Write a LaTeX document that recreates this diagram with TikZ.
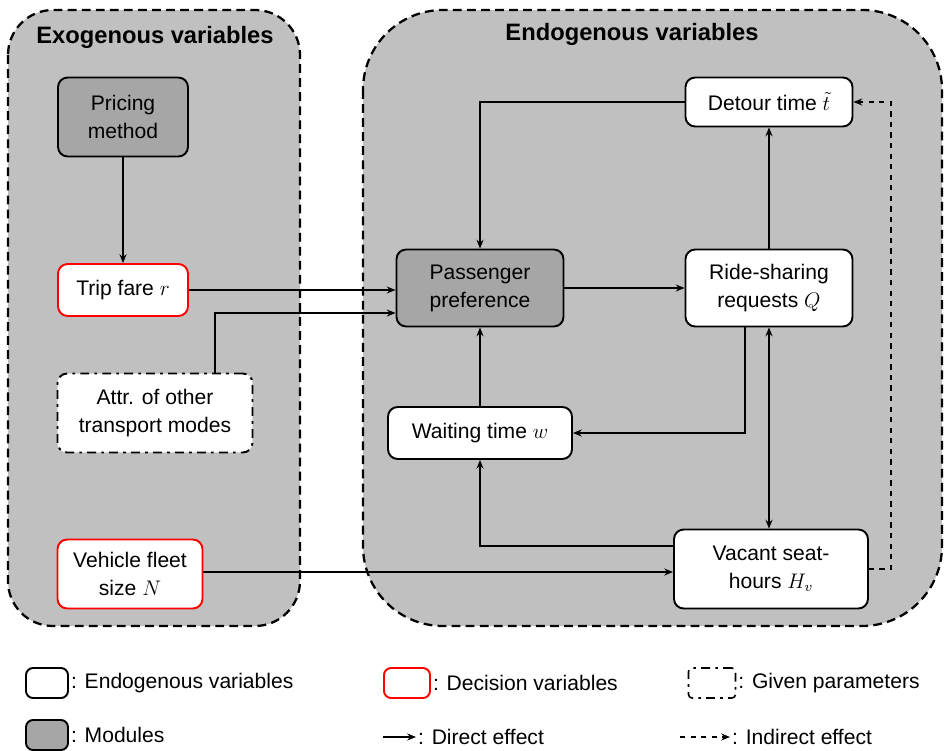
\documentclass[tikz,border=0pt]{standalone}
\usepackage{fontspec}
\setmainfont{Liberation Sans}
\usepackage{tikz}
\usetikzlibrary{positioning,calc,arrows.meta}
\definecolor{bggray}{RGB}{192,192,192}
\definecolor{modgray}{RGB}{166,166,166}

\begin{document}
\begin{tikzpicture}[
  x=0.02cm, y=-0.02cm,
  font=\fontsize{12}{16}\selectfont,
  endobox/.style={rectangle, draw=black, fill=white, rounded corners=5.5pt, line width=1.1pt, align=center, inner sep=2pt},
  modbox/.style={endobox, fill=modgray},
  decbox/.style={endobox, draw=red},
  parbox/.style={endobox, dash pattern=on 5pt off 3pt on 1.5pt off 3pt},
  groupbox/.style={draw=black, fill=bggray, dash pattern=on 5pt off 3pt, line width=1.3pt},
  titletext/.style={font=\fontsize{13.5}{16}\selectfont\bfseries},
  arrow/.style={-{Stealth[length=5pt,width=4pt]}, line width=0.8pt},
  legtext/.style={inner sep=1pt, anchor=west}
]
  \useasboundingbox (0,0) rectangle (944,751);

  % the two groups
  \draw[groupbox, rounded corners=0.9cm] (8,10) rectangle (300,626);
  \draw[groupbox, rounded corners=1.6cm] (363,10) rectangle (942,626);
  \node[titletext] (exotitle) at (155,37) {Exogenous variables};
  \node[titletext] (endotitle) at (632,34) {Endogenous variables};

  % exogenous side
  \node[modbox, minimum width=2.6cm, minimum height=1.58cm] (pricing) at (123,117) {Pricing\\method};
  \node[decbox, minimum width=2.6cm, minimum height=1.04cm] (fare) at (123,290) {Trip fare $r$};
  \node[parbox, minimum width=3.9cm, minimum height=1.58cm] (attr) at (155,413) {Attr. of other\\transport modes};
  \node[decbox, minimum width=2.9cm, minimum height=1.38cm] (fleet) at (130,574) {Vehicle fleet\\size $N$};

  % endogenous side
  \node[endobox, minimum width=3.34cm, minimum height=0.98cm] (detour) at (769,102) {Detour time $\tilde{t}$};
  \node[modbox, minimum width=3.34cm, minimum height=1.54cm] (pref) at (480,288) {Passenger\\preference};
  \node[endobox, minimum width=3.34cm, minimum height=1.54cm] (rs) at (769,288) {Ride-sharing\\requests $Q$};
  \node[endobox, minimum width=3.68cm, minimum height=1.04cm] (wait) at (480,433) {Waiting time $w$};
  \node[endobox, minimum width=3.88cm, minimum height=1.58cm] (vacant) at (771,569) {Vacant seat-\\hours $H_v$};

  % effects
  \draw[arrow] (pricing) -- (fare);
  \draw[arrow] (fare.east) -- (fare.east -| pref.west);
  \draw[arrow] ($(attr.north)+(60,0)$) |- ($(pref.west)+(0,25)$);
  \draw[arrow] ($(fleet.east)+(0,-2)$) -- ($(fleet.east -| vacant.west)+(0,-2)$);
  \draw[arrow] (detour.west) -| (pref.north);
  \draw[arrow] (pref) -- (rs);
  \draw[arrow] (rs) -- (detour);
  \draw[arrow] ($(rs.south)+(-24,0)$) |- (wait.east);
  \draw[arrow] (wait) -- (pref);
  \draw[{Stealth[length=5pt,width=4pt]}-{Stealth[length=5pt,width=4pt]}, line width=0.8pt] (rs.south) -- (rs.south |- vacant.north);
  \draw[arrow] ($(vacant.west)+(0,-23)$) -| (wait.south);
  \draw[arrow, dashed] (vacant.east) -- ++(22,0) |- (detour.east);

  % legend
  \node[endobox, minimum width=0.84cm, minimum height=0.6cm, rounded corners=4pt] (lgendo) at (47,683) {};
  \node[legtext] (lgendotext) at (lgendo.east) {: Endogenous variables};
  \node[decbox, minimum width=0.92cm, minimum height=0.6cm, rounded corners=4pt] (lgdec) at (407,683) {};
  \node[legtext] (lgdectext) at (lgdec.east) {: Decision variables};
  \node[parbox, minimum width=0.94cm, minimum height=0.6cm, rounded corners=2pt, line width=0.9pt] (lgpar) at (712,683) {};
  \node[legtext] (lgpartext) at (lgpar.east) {: Given parameters};
  \node[modbox, minimum width=0.84cm, minimum height=0.6cm, rounded corners=4pt] (lgmod) at (47,735) {};
  \node[legtext] (lgmodtext) at (lgmod.east) {: Modules};
  \coordinate (lgdir) at (383,737);
  \node[legtext] (lgdirtext) at (416,737) {: Direct effect};
  \draw[arrow] (lgdir) -- (lgdirtext.west);
  \coordinate (lgind) at (680,737);
  \node[legtext] (lgindtext) at (730,737) {: Indirect effect};
  \draw[arrow, dashed] (lgind) -- (lgindtext.west);
\end{tikzpicture}
\end{document}
